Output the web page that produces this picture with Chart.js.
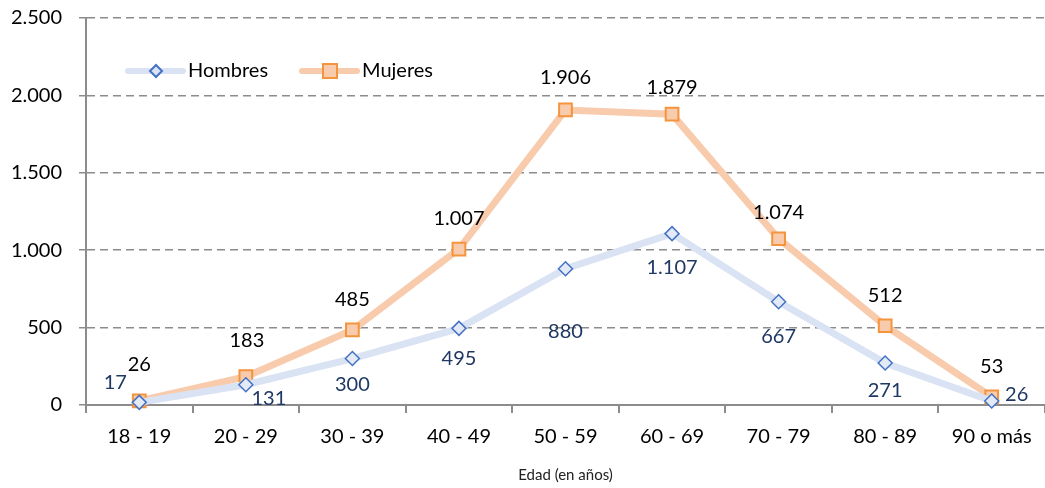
<!DOCTYPE html>
<html>
<head>
<meta charset="utf-8">
<script src="https://cdn.jsdelivr.net/npm/chart.js@4.4.1/dist/chart.umd.min.js"></script>
<style>
  html, body { margin: 0; padding: 0; background: #fff; }
  #wrap { width: 1045px; height: 488px; }
</style>
</head>
<body>
<div id="wrap"><canvas id="edadChart" width="1045" height="488"></canvas></div>
<script>
var categorias = ["18 - 19", "20 - 29", "30 - 39", "40 - 49", "50 - 59", "60 - 69", "70 - 79", "80 - 89", "90 o más"];
var hombres = [17, 131, 300, 495, 880, 1107, 667, 271, 26];
var mujeres = [26, 183, 485, 1007, 1906, 1879, 1074, 512, 53];
var ticksY = [0, 500, 1000, 1500, 2000, 2500];

// label offsets (px) from each point, as in the original
var offHombres = [[-24, -20], [23, 14], [0, 26], [0, 30], [0, 63], [0, 34], [0, 35], [0, 27], [25, -6]];
var offMujeres = [[0, -36], [1, -36], [0, -30], [0, -31], [0, -32], [0, -27], [0, -26], [0, -30], [0, -30]];

var fuente = "Lato, 'Open Sans', sans-serif";

function fmt(v) {
  return String(v).replace(/\B(?=(\d{3})+(?!\d))/g, ".");
}

var etiquetas = {
  id: "etiquetas",
  afterDatasetsDraw: function (chart) {
    var c = chart.ctx;
    c.save();
    c.font = "20px " + fuente;
    c.textAlign = "center";
    c.textBaseline = "middle";
    chart.data.datasets.forEach(function (ds, i) {
      var meta = chart.getDatasetMeta(i);
      var offs = i === 0 ? offHombres : offMujeres;
      c.fillStyle = i === 0 ? "#1f3864" : "#000";
      meta.data.forEach(function (p, j) {
        c.fillText(fmt(ds.data[j]), p.x + offs[j][0], p.y + offs[j][1]);
      });
    });
    c.restore();
  },
  afterDraw: function (chart) {
    // legend: line + marker + text
    var c = chart.ctx;
    c.save();
    var items = [
      { x: 128, txt: "Hombres", line: "#dae3f3", fill: "#dae3f3", border: "#4472c4", diamond: true },
      { x: 302, txt: "Mujeres", line: "#f8cbad", fill: "#f8cbad", border: "#f4943c", diamond: false }
    ];
    var y = 71;
    items.forEach(function (it) {
      c.strokeStyle = it.line;
      c.lineWidth = 6;
      c.lineCap = "round";
      c.beginPath();
      c.moveTo(it.x, y);
      c.lineTo(it.x + 55, y);
      c.stroke();
      var mx = it.x + 28;
      c.lineWidth = 2;
      c.fillStyle = it.fill;
      c.strokeStyle = it.border;
      c.beginPath();
      if (it.diamond) {
        c.moveTo(mx, y - 6); c.lineTo(mx + 6, y); c.lineTo(mx, y + 6); c.lineTo(mx - 6, y);
        c.closePath();
      } else {
        c.rect(mx - 7, y - 7, 14, 14);
      }
      c.fill();
      c.stroke();
      c.fillStyle = "#000";
      c.font = "20px " + fuente;
      c.textAlign = "left";
      c.textBaseline = "middle";
      c.fillText(it.txt, it.x + 60, y);
    });
    c.restore();
  }
};

var ctx = document.getElementById("edadChart").getContext("2d");
new Chart(ctx, {
  type: "line",
  data: {
    labels: categorias,
    datasets: [
      {
        label: "Hombres",
        data: hombres,
        borderColor: "#dae3f3",
        borderWidth: 7,
        pointStyle: "rectRot",
        pointRadius: 7,
        pointBackgroundColor: "#e3eaf6",
        pointBorderColor: "#4472c4",
        pointBorderWidth: 1.5,
        tension: 0,
        clip: false
      },
      {
        label: "Mujeres",
        data: mujeres,
        borderColor: "#f8cbad",
        borderWidth: 7,
        pointStyle: "rect",
        pointRadius: 9,
        pointBackgroundColor: "#f8cbad",
        pointBorderColor: "#f4943c",
        pointBorderWidth: 2,
        tension: 0,
        clip: false
      }
    ]
  },
  options: {
    responsive: false,
    animation: false,
    layout: { autoPadding: false, padding: { top: 18, right: 0, left: 0, bottom: 0 } },
    plugins: {
      legend: { display: false },
      tooltip: { enabled: false }
    },
    scales: {
      x: {
        offset: true,
        grid: { offset: true, drawOnChartArea: false, drawTicks: true, tickLength: 8, color: "#8c8c8c", lineWidth: 2 },
        border: { color: "#8c8c8c", width: 2 },
        ticks: { color: "#000", font: { size: 20, family: fuente }, padding: 12, maxRotation: 0, autoSkip: false },
        title: { display: true, text: "Edad (en años)", color: "#222", font: { size: 15, family: fuente }, padding: { top: 8 } },
        afterFit: function (s) { s.height = 83; s.paddingLeft = 0; s.paddingRight = 0; }
      },
      y: {
        min: 0,
        max: 2500,
        afterBuildTicks: function (s) { s.ticks = ticksY.map(function (v) { return { value: v }; }); },
        grid: { color: "#8c8c8c", lineWidth: 1.5, tickLength: 7, drawTicks: true },
        border: { color: "#8c8c8c", width: 2, dash: [8, 5] },
        ticks: { color: "#000", font: { size: 20, family: fuente }, padding: 17, callback: function (v) { return fmt(v); } },
        afterFit: function (s) { s.width = 86; s.paddingTop = 0; s.paddingBottom = 0; }
      }
    }
  },
  plugins: [etiquetas]
});
</script>
</body>
</html>
